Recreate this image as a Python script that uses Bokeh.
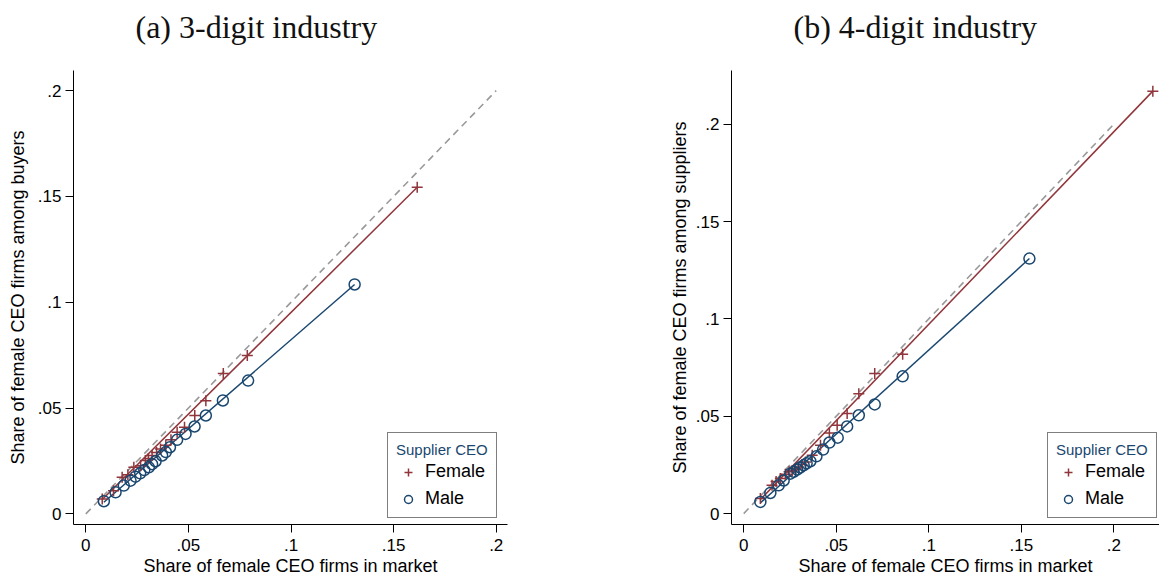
from bokeh.plotting import figure
from bokeh.layouts import row, column
from bokeh.models import Range1d, FixedTicker, Legend, LegendItem, Label
from bokeh.embed import file_html
from bokeh.resources import INLINE

# ---------------- data ----------------
# Panel (a): 3-digit industry
a_female_x = [0.008, 0.0135, 0.0177, 0.0205, 0.0234, 0.0267, 0.029, 0.0305, 0.0323, 0.0345,
              0.0364, 0.039, 0.0415, 0.0445, 0.0481, 0.0531, 0.0585, 0.067, 0.0787, 0.1615]
a_female_y = [0.0071, 0.011, 0.0173, 0.0185, 0.022, 0.0228, 0.0252, 0.0262, 0.0276, 0.029,
              0.0307, 0.0325, 0.035, 0.0386, 0.0409, 0.0465, 0.0535, 0.0664, 0.0748, 0.1543]
a_male_x = [0.0088, 0.0145, 0.0185, 0.0218, 0.0242, 0.0265, 0.0285, 0.0307, 0.0323, 0.034,
            0.0372, 0.039, 0.041, 0.0445, 0.0486, 0.053, 0.0585, 0.0668, 0.0791, 0.131]
a_male_y = [0.006, 0.0102, 0.0134, 0.0157, 0.0176, 0.0192, 0.0207, 0.022, 0.0235, 0.0249,
            0.0276, 0.0292, 0.0315, 0.035, 0.0378, 0.0413, 0.0465, 0.0536, 0.063, 0.1084]
a_fit_female_x = [0.008, 0.1615]
a_fit_female_y = [0.0068, 0.1543]
a_fit_male_x = [0.0088, 0.131]
a_fit_male_y = [0.0055, 0.1084]

# Panel (b): 4-digit industry
b_female_x = [0.009, 0.0153, 0.0175, 0.0198, 0.0225, 0.0245, 0.0262, 0.028, 0.0297, 0.0315,
              0.0334, 0.037, 0.0415, 0.0463, 0.0505, 0.0559, 0.0622, 0.0708, 0.0859, 0.2211]
b_female_y = [0.0077, 0.0145, 0.0165, 0.018, 0.0202, 0.0215, 0.0222, 0.023, 0.0239, 0.0252,
              0.0265, 0.030, 0.0351, 0.0414, 0.0454, 0.0514, 0.0616, 0.0719, 0.0818, 0.217]
b_male_x = [0.009, 0.0144, 0.0189, 0.0216, 0.0252, 0.027, 0.0289, 0.0305, 0.0324, 0.034,
            0.036, 0.0393, 0.0429, 0.0463, 0.0508, 0.0559, 0.0622, 0.0708, 0.0859, 0.1544]
b_male_y = [0.006, 0.0106, 0.0145, 0.017, 0.0205, 0.0215, 0.0226, 0.0237, 0.0248, 0.0258,
            0.0269, 0.0294, 0.0329, 0.0365, 0.039, 0.0448, 0.0505, 0.0561, 0.0705, 0.131]
b_fit_female_x = [0.009, 0.2211]
b_fit_female_y = [0.0072, 0.217]
b_fit_male_x = [0.009, 0.1544]
b_fit_male_y = [0.0055, 0.131]

diag_x = [0.0, 0.2]
diag_y = [0.0, 0.2]

tick_values = [0, 0.05, 0.1, 0.15, 0.2]
tick_labels = ["0", ".05", ".1", ".15", ".2"]

x_label = "Share of female CEO firms in market"
titles = ["(a) 3-digit industry", "(b) 4-digit industry"]
y_labels = ["Share of female CEO firms among buyers", "Share of female CEO firms among suppliers"]
legend_title = "Supplier CEO"
legend_labels = ["Female", "Male"]

NAVY = "#1a476f"
MAROON = "#90353b"
GREY = "#999999"
SANS = "Liberation Sans"

HEADER_H = 52
FRAME_H = 454
TOP = 70 - HEADER_H
BOTTOM = 51
W_LEFT = 580
W_RIGHT = 579


def panel(ylab, fx, fy, mx, my, ffx, ffy, fmx, fmy, xr, yr,
          frame_w, bl, br, leg_loc, ylab_standoff):
    p = figure(output_backend="svg", toolbar_location=None,
               frame_width=frame_w, frame_height=FRAME_H,
               min_border_left=bl, min_border_right=br,
               min_border_top=TOP, min_border_bottom=BOTTOM,
               x_range=Range1d(*xr), y_range=Range1d(*yr))
    p.outline_line_color = None
    p.grid.visible = False
    p.background_fill_color = "white"
    p.border_fill_color = "white"

    overrides = {v: l for v, l in zip(tick_values, tick_labels)}
    for ax in (p.xaxis[0], p.yaxis[0]):
        ax.ticker = FixedTicker(ticks=tick_values)
        ax.major_label_overrides = overrides
        ax.minor_tick_line_color = None
        ax.major_tick_out = 8
        ax.major_tick_in = 0
        ax.axis_line_color = "black"
        ax.major_tick_line_color = "black"
        ax.major_label_text_font = SANS
        ax.major_label_text_font_size = "17px"
        ax.major_label_text_color = "black"
        ax.axis_label_text_font = SANS
        ax.axis_label_text_font_size = "18px"
        ax.axis_label_text_font_style = "normal"
        ax.axis_label_text_color = "black"
    p.xaxis.axis_label = x_label
    p.yaxis.axis_label = ylab
    p.xaxis.major_label_standoff = 6
    p.xaxis.axis_label_standoff = 2
    p.yaxis.major_label_standoff = 4
    p.yaxis.axis_label_standoff = ylab_standoff

    p.line(diag_x, diag_y, line_color=GREY, line_width=1.6, line_dash="7 5")
    p.line(ffx, ffy, line_color=MAROON, line_width=1.5)
    p.line(fmx, fmy, line_color=NAVY, line_width=1.5)
    rf = p.scatter(fx, fy, marker="cross", size=11, line_color=MAROON, line_width=1.5)
    rm = p.scatter(mx, my, marker="circle", size=11, line_color=NAVY,
                   fill_color=None, line_width=1.5)

    leg = Legend(items=[LegendItem(label=legend_labels[0], renderers=[rf]),
                        LegendItem(label=legend_labels[1], renderers=[rm])],
                 location=leg_loc, title=legend_title,
                 title_text_font=SANS, title_text_font_size="15px",
                 title_text_font_style="normal", title_text_color=NAVY,
                 title_standoff=3,
                 label_text_font=SANS, label_text_font_size="18px",
                 label_text_color="black", label_standoff=5,
                 glyph_width=24, glyph_height=20, label_height=20,
                 spacing=6, padding=8,
                 border_line_color="black", border_line_width=1,
                 background_fill_color="white", background_fill_alpha=1.0)
    p.add_layout(leg, "center")
    return p


# header with the two sub-captions
header = figure(output_backend="svg", toolbar_location=None,
                width=W_LEFT + W_RIGHT, height=HEADER_H,
                x_axis_type=None, y_axis_type=None,
                x_range=Range1d(0, 1), y_range=Range1d(0, 1),
                min_border_left=0, min_border_right=0,
                min_border_top=0, min_border_bottom=0)
header.outline_line_color = None
header.grid.visible = False
for txt, xpos in zip(titles, [135, W_LEFT + 213]):
    header.add_layout(Label(x=xpos, y=HEADER_H - 26, x_units="screen", y_units="screen",
                            text=txt, text_font="Liberation Serif", text_font_size="32px",
                            text_color="#111111", text_baseline="middle", text_align="left"))

pa = panel(y_labels[0], a_female_x, a_female_y, a_male_x, a_male_y,
           a_fit_female_x, a_fit_female_y, a_fit_male_x, a_fit_male_y,
           (-0.006, 0.2055), (-0.005, 0.2095),
           434, 73, W_LEFT - 73 - 434, (314, 6), 7)
pb = panel(y_labels[1], b_female_x, b_female_y, b_male_x, b_male_y,
           b_fit_female_x, b_fit_female_y, b_fit_male_x, b_fit_male_y,
           (-0.0066, 0.2247), (-0.0056, 0.2276),
           428, W_RIGHT - 428, 0, (316, 6), 3)

layout = column(header, row(pa, pb, spacing=0), spacing=0)
open("out.html", "w").write(file_html(layout, INLINE))
